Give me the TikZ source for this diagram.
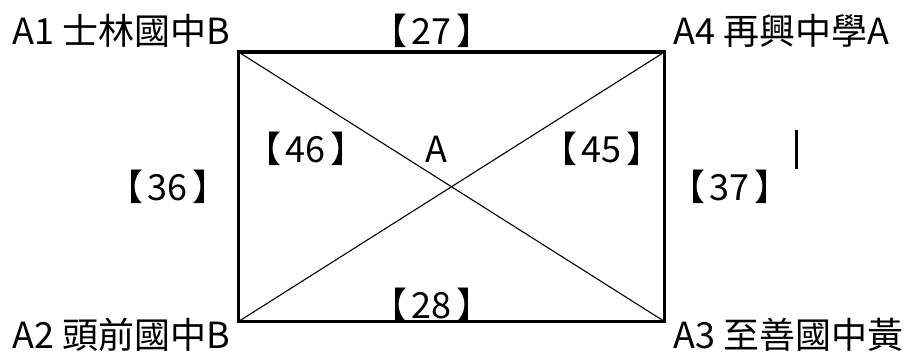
\documentclass[tikz,border=0pt]{standalone}
\usepackage{fontspec}
\setmainfont{Noto Sans CJK TC}
\newcommand{\brk}[1]{【\hspace{5pt}#1\hspace{5pt}】}
\begin{document}
\begin{tikzpicture}[x=1pt,y=-1pt,
  lbl/.style={inner sep=0pt,font=\fontsize{36}{40}\selectfont},
  frame/.style={line width=3.2pt},
  diag/.style={line width=1.1pt}]
\useasboundingbox (0,0) rectangle (909,358);
\coordinate (tl) at (238.5,52);
\coordinate (tr) at (664.5,52);
\coordinate (br) at (664.5,321.5);
\coordinate (bl) at (238.5,321.5);
\draw[diag] (tl) -- (br);
\draw[diag] (tr) -- (bl);
\draw[frame] (tl) -- (tr) -- (br) -- (bl) -- cycle;
\node[lbl,anchor=base west] (a1) at (12,45) {A1 士林國中B};
\node[lbl,anchor=base west] (a4) at (673,45) {A4 再興中學A};
\node[lbl,anchor=base west] (a2) at (12,348) {A2 頭前國中B};
\node[lbl,anchor=base west] (a3) at (673,348) {A3 至善國中黃};
\node[lbl,anchor=base] (e27) at (432,45) {\brk{27}};
\node[lbl,anchor=base] (e28) at (432,318) {\brk{28}};
\node[lbl,anchor=base] (e46) at (306,163) {\brk{46}};
\node[lbl,anchor=base] (e45) at (602,163) {\brk{45}};
\node[lbl,anchor=base] (ca) at (436,163) {A};
\node[lbl,anchor=base] (e36) at (168,200) {\brk{36}};
\node[lbl,anchor=base] (e37) at (730,200) {\brk{37}};
\coordinate (bar1) at (796,130);
\coordinate (bar2) at (796,169);
\draw[line width=3pt] (bar1) -- (bar2);
\end{tikzpicture}
\end{document}
